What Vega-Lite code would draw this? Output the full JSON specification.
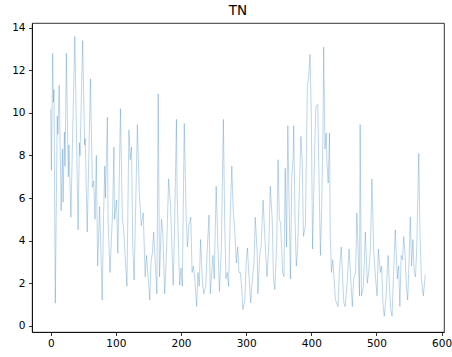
{
  "$schema": "https://vega.github.io/schema/vega-lite/v6.json",
  "autosize": "none",
  "width": 412,
  "height": 309,
  "padding": {"left": 32, "top": 23, "right": 8, "bottom": 25},
  "title": {"text": "TN", "font": "DejaVu Sans", "fontSize": 13.5, "fontWeight": "normal", "color": "#000", "offset": 5, "anchor": "middle"},
  "config": {
    "view": {"stroke": "#000", "strokeWidth": 0.8},
    "axis": {"labelFont": "DejaVu Sans", "labelFontSize": 10.5, "labelColor": "#000", "tickColor": "#000", "tickSize": 3.5, "tickWidth": 0.8, "domainColor": "#000", "domainWidth": 0.8, "grid": false, "title": null}
  },
  "data": {"values": [
    {"i":0,"v":10.2},{"i":1,"v":7.3},{"i":3,"v":12.8},{"i":4,"v":10.5},{"i":5,"v":11.1},{"i":7,"v":1.05},{"i":10,"v":9.85},{"i":11,"v":9.0},{"i":13,"v":11.3},{"i":16,"v":5.4},{"i":18,"v":8.3},{"i":19,"v":5.8},{"i":21,"v":9.1},{"i":22,"v":7.5},{"i":24,"v":12.8},{"i":26,"v":8.8},{"i":27,"v":7.0},{"i":28,"v":8.5},{"i":31,"v":5.1},{"i":34,"v":9.5},{"i":37,"v":13.6},{"i":42,"v":4.5},{"i":44,"v":8.6},{"i":45,"v":8.0},{"i":49,"v":13.4},{"i":52,"v":8.5},{"i":53,"v":8.8},{"i":56,"v":4.4},{"i":61,"v":11.6},{"i":64,"v":6.5},{"i":66,"v":6.8},{"i":68,"v":5.0},{"i":70,"v":8.0},{"i":72,"v":2.8},
    {"i":75,"v":5.6},{"i":77,"v":3.5},{"i":79,"v":1.2},{"i":81,"v":5.0},{"i":83,"v":7.5},{"i":84,"v":6.0},{"i":87,"v":9.8},{"i":88,"v":5.0},{"i":91,"v":2.5},{"i":93,"v":4.0},{"i":95,"v":5.3},{"i":97,"v":8.4},{"i":98,"v":5.0},{"i":101,"v":5.9},{"i":103,"v":3.4},{"i":105,"v":6.5},{"i":107,"v":10.2},{"i":110,"v":5.0},{"i":112,"v":4.5},{"i":114,"v":3.4},{"i":117,"v":1.85},{"i":120,"v":9.2},{"i":122,"v":7.8},{"i":124,"v":8.4},{"i":126,"v":3.7},{"i":128,"v":2.15},{"i":130,"v":5.0},{"i":133,"v":9.45},{"i":136,"v":6.2},{"i":139,"v":4.7},{"i":142,"v":5.3},{"i":145,"v":2.3},{"i":147,"v":3.3},{"i":149,"v":2.5},{"i":152,"v":1.2},{"i":154,"v":3.0},{"i":156,"v":3.4},{"i":158,"v":4.4},
    {"i":163,"v":1.5},{"i":165,"v":10.9},{"i":167,"v":2.3},{"i":170,"v":5.0},{"i":172,"v":4.4},{"i":175,"v":1.5},{"i":178,"v":3.7},{"i":181,"v":6.9},{"i":184,"v":5.6},{"i":188,"v":1.9},{"i":190,"v":4.4},{"i":193,"v":9.7},{"i":194,"v":6.2},{"i":197,"v":2.8},{"i":198,"v":1.9},{"i":200,"v":2.7},{"i":202,"v":1.85},{"i":205,"v":9.5},{"i":208,"v":5.0},{"i":210,"v":3.7},{"i":212,"v":4.7},{"i":215,"v":5.1},{"i":217,"v":2.5},{"i":219,"v":2.8},{"i":221,"v":2.3},{"i":224,"v":0.9},{"i":226,"v":2.5},{"i":228,"v":1.85},{"i":230,"v":4.05},{"i":233,"v":2.0},{"i":235,"v":1.5},{"i":238,"v":1.85},{"i":240,"v":3.4},{"i":243,"v":5.2},
    {"i":245,"v":1.5},{"i":249,"v":3.3},{"i":251,"v":2.2},{"i":254,"v":6.55},{"i":257,"v":3.4},{"i":259,"v":1.6},{"i":262,"v":3.7},{"i":265,"v":9.7},{"i":267,"v":5.0},{"i":269,"v":2.2},{"i":271,"v":2.5},{"i":273,"v":1.85},{"i":276,"v":5.6},{"i":278,"v":7.5},{"i":280,"v":5.5},{"i":283,"v":4.2},{"i":285,"v":2.95},{"i":287,"v":3.7},{"i":289,"v":2.5},{"i":291,"v":2.5},{"i":293,"v":1.85},{"i":295,"v":0.75},{"i":298,"v":1.2},{"i":300,"v":2.95},{"i":302,"v":3.65},{"i":304,"v":2.5},{"i":307,"v":1.07},{"i":309,"v":2.0},{"i":312,"v":2.95},{"i":314,"v":5.1},{"i":317,"v":3.4},{"i":318,"v":1.5},{"i":321,"v":3.4},{"i":323,"v":3.7},{"i":326,"v":5.9},
    {"i":330,"v":3.4},{"i":332,"v":2.3},{"i":335,"v":3.9},{"i":337,"v":6.55},{"i":340,"v":5.0},{"i":342,"v":2.2},{"i":344,"v":1.7},{"i":347,"v":3.9},{"i":349,"v":7.8},{"i":351,"v":5.0},{"i":353,"v":4.8},{"i":356,"v":2.5},{"i":358,"v":2.3},{"i":360,"v":7.4},{"i":362,"v":3.7},{"i":364,"v":9.4},{"i":366,"v":5.6},{"i":368,"v":2.2},{"i":370,"v":7.0},{"i":372,"v":7.8},{"i":373,"v":9.4},{"i":375,"v":5.0},{"i":377,"v":2.8},{"i":379,"v":3.6},{"i":382,"v":6.7},{"i":384,"v":8.9},{"i":386,"v":7.8},{"i":388,"v":4.2},{"i":391,"v":4.7},{"i":394,"v":11.3},{"i":396,"v":11.7},{"i":398,"v":12.75},{"i":400,"v":10.0},{"i":402,"v":3.6},{"i":405,"v":8.0},{"i":407,"v":10.3},{"i":410,"v":10.4},{"i":413,"v":5.0},
    {"i":414,"v":3.3},{"i":416,"v":5.6},{"i":418,"v":9.2},{"i":419,"v":13.1},{"i":421,"v":8.3},{"i":423,"v":9.06},{"i":424,"v":7.7},{"i":426,"v":6.7},{"i":428,"v":9.06},{"i":429,"v":4.4},{"i":431,"v":2.5},{"i":433,"v":3.1},{"i":435,"v":2.2},{"i":437,"v":1.2},{"i":439,"v":1.07},{"i":441,"v":0.9},{"i":443,"v":2.5},{"i":446,"v":3.7},{"i":448,"v":2.3},{"i":450,"v":1.07},{"i":452,"v":0.9},{"i":455,"v":2.0},{"i":458,"v":3.6},{"i":460,"v":2.5},{"i":463,"v":0.9},{"i":465,"v":2.2},{"i":468,"v":2.5},{"i":470,"v":5.3},{"i":472,"v":3.4},{"i":474,"v":1.4},{"i":475,"v":9.45},{"i":477,"v":1.4},{"i":480,"v":1.85},{"i":483,"v":4.4},{"i":486,"v":2.0},{"i":488,"v":2.5},{"i":491,"v":3.7},{"i":493,"v":6.9},{"i":496,"v":3.4},
    {"i":498,"v":2.5},{"i":501,"v":1.4},{"i":503,"v":3.6},{"i":506,"v":2.5},{"i":508,"v":2.8},{"i":510,"v":1.07},{"i":512,"v":0.44},{"i":515,"v":1.4},{"i":516,"v":2.2},{"i":518,"v":3.3},{"i":520,"v":1.85},{"i":522,"v":0.75},{"i":524,"v":0.44},{"i":526,"v":2.2},{"i":529,"v":4.5},{"i":532,"v":2.2},{"i":534,"v":2.8},{"i":536,"v":0.9},{"i":538,"v":3.3},{"i":540,"v":3.1},{"i":542,"v":4.2},{"i":544,"v":3.3},{"i":546,"v":1.85},{"i":548,"v":1.2},{"i":550,"v":2.95},{"i":552,"v":5.1},{"i":554,"v":2.8},{"i":556,"v":4.05},{"i":558,"v":2.5},{"i":560,"v":2.3},{"i":562,"v":3.7},{"i":565,"v":8.1},{"i":567,"v":4.2},{"i":569,"v":2.2},{"i":572,"v":1.4},{"i":575,"v":2.4}
  ]},
  "mark": {"type": "line", "color": "#1f77b4", "strokeWidth": 0.6, "opacity": 0.5, "clip": true},
  "encoding": {
    "x": {"field": "i", "type": "quantitative", "scale": {"domain": [-28.75, 603.75], "nice": false, "zero": false}, "axis": {"values": [0,100,200,300,400,500,600], "labelPadding": 3, "labelFlush": false}},
    "y": {"field": "v", "type": "quantitative", "scale": {"domain": [-0.3, 14.23], "nice": false, "zero": false}, "axis": {"values": [0,2,4,6,8,10,12,14], "labelPadding": 3.5}}
  }
}
